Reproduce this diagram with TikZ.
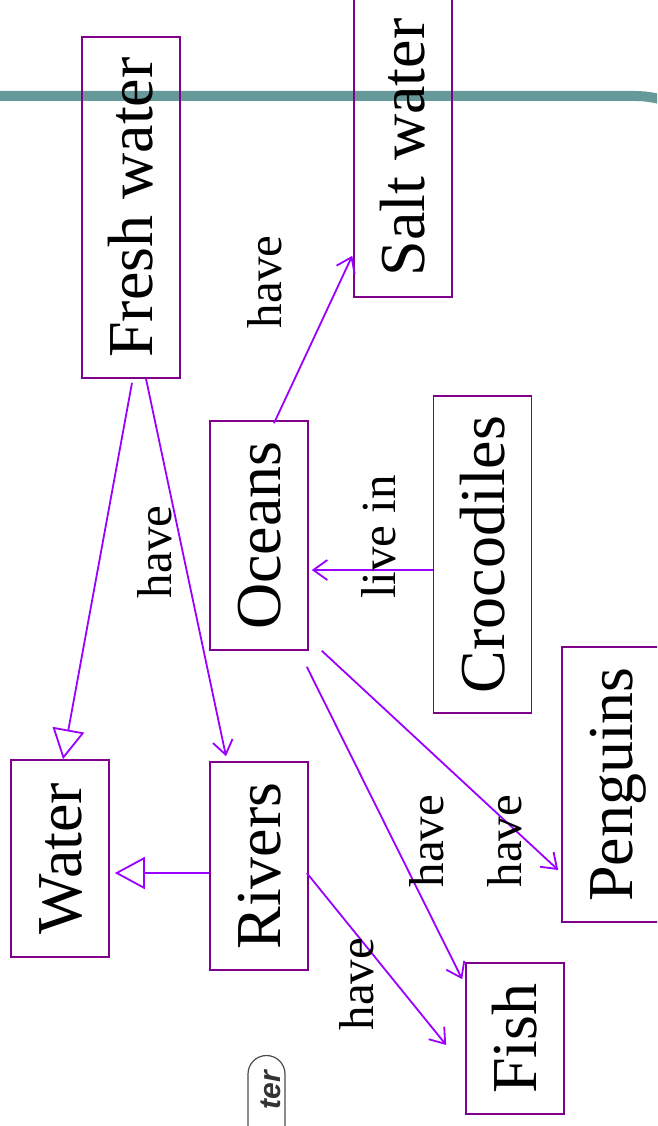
\documentclass[tikz,border=0pt]{standalone}
\usepackage{fontspec}
\setmainfont{Liberation Serif}
\newfontfamily\logofont{Liberation Sans}
\usetikzlibrary{arrows.meta,calc}
\definecolor{boxline}{RGB}{128,0,140}
\definecolor{link}{RGB}{153,0,255}
\definecolor{band}{RGB}{102,153,153}
\begin{document}
\begin{tikzpicture}[x=1pt,y=-1pt,
  concept/.style={draw=boxline, line width=1.6pt, rotate=90, inner sep=0pt,
    minimum height=98pt, text height=43pt, text depth=0pt,
    font=\fontsize{64}{70}\selectfont},
  linkword/.style={rotate=90, inner sep=0pt, text height=33pt, text depth=0pt,
    font=\fontsize{49}{54}\selectfont},
  rel/.style={draw=link, line width=1.8pt, -{Straight Barb[length=14pt,width=20pt]}},
  isa/.style={draw=link, line width=1.8pt, -{Triangle[open,length=30pt,width=32pt]}}]
\useasboundingbox (0,0) rectangle (657,1126);
\begin{scope}
  \clip (0,0) rectangle (657,1126);
  % header band
  \draw[band, line width=10pt] (-10,96) -- (635,96) arc[start angle=-90, end angle=-50, radius=100];
  % logo fragment
  \draw[black!70, line width=1.2pt] (248,1130) -- (248,1074) arc[start angle=180, end angle=360, radius=18.5] -- (285,1130);
  \node[rotate=90, anchor=east, inner sep=0pt, text=black!80, text height=20pt, text depth=0pt,
        font=\logofont\bfseries\itshape\fontsize{30}{32}\selectfont] (logo) at (270,1071) {ter};

  % concepts
  \node[concept, minimum width=341pt] (fw) at (131,207.5) {Fresh water};
  \node[concept, minimum width=299pt] (sw) at (403,147.5) {Salt water};
  \node[concept, minimum width=229pt] (oc) at (259,535.5) {Oceans};
  \node[concept, minimum width=317pt] (cr) at (482.5,554.5) {Crocodiles};
  \node[concept, minimum width=275pt] (pe) at (611,784.5) {Penguins};
  \node[concept, minimum width=197pt] (wa) at (60,858.5) {Water};
  \node[concept, minimum width=208pt] (ri) at (259,866) {Rivers};
  \node[concept, minimum width=151pt] (fi) at (515,1038.5) {Fish};

  % links
  \draw[isa] ($(fw.west)+(1,4)$) -- ($(wa.east)+(3,0)$);
  \draw[rel] ($(fw.west)+(15,0)$) -- ($(ri.east)+(-33,-5)$);
  \draw[isa] ($(ri.north)+(0,7)$) -- ($(wa.south)+(5,14.5)$);
  \draw[rel] ($(oc.east)+(15,3)$) -- ($(sw.north west)+(-1,-42)$);
  \draw[rel] ($(cr.north)+(0,15.5)$) -- ($(oc.south)+(3,34.5)$);
  \draw[rel] ($(oc.south west)+(13,0)$) -- ($(pe.north)+(-3,85.5)$);
  \draw[rel] ($(oc.south west)+(-2,16)$) -- ($(fi.north east)+(-3,17)$);
  \draw[rel] ($(ri.south)+(-2,7)$) -- ($(fi.north)+(-19,6.5)$);

  % linking words
  \node[linkword] (l1) at (155,552) {have};
  \node[linkword] (l2) at (265,282) {have};
  \node[linkword] (l3) at (379,537) {live in};
  \node[linkword] (l4) at (427,841) {have};
  \node[linkword] (l5) at (505,841) {have};
  \node[linkword] (l6) at (357,984) {have};
\end{scope}
\end{tikzpicture}
\end{document}
